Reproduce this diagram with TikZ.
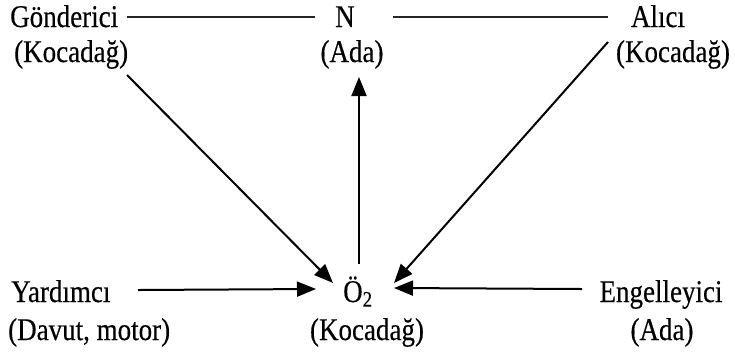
\documentclass[tikz,border=0pt]{standalone}
\usepackage{fontspec}
\usepackage{graphicx}
\setmainfont{Liberation Serif}[FakeBold=0.4]
\usetikzlibrary{arrows.meta}
\newcommand\tx[1]{\scalebox{1}[1.17]{#1}}
\begin{document}
\begin{tikzpicture}[x=1pt,y=-1pt,
  lbl/.style={inner sep=0pt,font=\fontsize{27}{32}\selectfont},
  plain/.style={line width=1.8pt,draw=black!85},
  arr/.style={line width=2pt,-{Triangle[length=19pt,width=15pt]}}]
\useasboundingbox (0,0) rectangle (735,357);
% texts
\node[lbl,anchor=base west] (gon)  at (10,27)  {\tx{Gönderici}};
\node[lbl,anchor=base west] (gonk) at (14,62)  {\tx{(Kocadağ)}};
\node[lbl,anchor=base]      (n)    at (345,27) {\tx{N}};
\node[lbl,anchor=base]      (nada) at (352,62) {\tx{(Ada)}};
\node[lbl,anchor=base]      (alici) at (658,27) {\tx{Alıcı}};
\node[lbl,anchor=base]      (alk)  at (673,62) {\tx{(Kocadağ)}};
\node[lbl,anchor=base west] (yard) at (11,302) {\tx{Yardımcı}};
\node[lbl,anchor=base west] (yardk) at (8,340) {\tx{(Davut, motor)}};
\node[lbl,anchor=base west] (o2)   at (343,302) {\tx{Ö\textsubscript{2}}};
\node[lbl,anchor=base]      (o2k)  at (367,340) {\tx{(Kocadağ)}};
\node[lbl,anchor=base]      (eng)  at (661,302) {\tx{Engelleyici}};
\node[lbl,anchor=base]      (engk) at (662,340) {\tx{(Ada)}};
% connector ends
\coordinate (l1a) at (127,17);  \coordinate (l1b) at (315,17);
\coordinate (l2a) at (393,17);  \coordinate (l2b) at (608,17);
\coordinate (g1) at (127,75);   \coordinate (g2) at (333,283);
\coordinate (v1) at (359,264);  \coordinate (v2) at (359,77);
\coordinate (a1) at (608,42);   \coordinate (a2) at (394,283);
\coordinate (y1) at (138,290);  \coordinate (y2) at (316,289);
\coordinate (e1) at (582,289);  \coordinate (e2) at (394,288);
% connectors
\draw[plain] (l1a) -- (l1b);
\draw[plain] (l2a) -- (l2b);
\draw[arr] (g1) -- (g2);
\draw[arr] (v1) -- (v2);
\draw[arr] (a1) -- (a2);
\draw[arr] (y1) -- (y2);
\draw[arr] (e1) -- (e2);
\end{tikzpicture}
\end{document}
